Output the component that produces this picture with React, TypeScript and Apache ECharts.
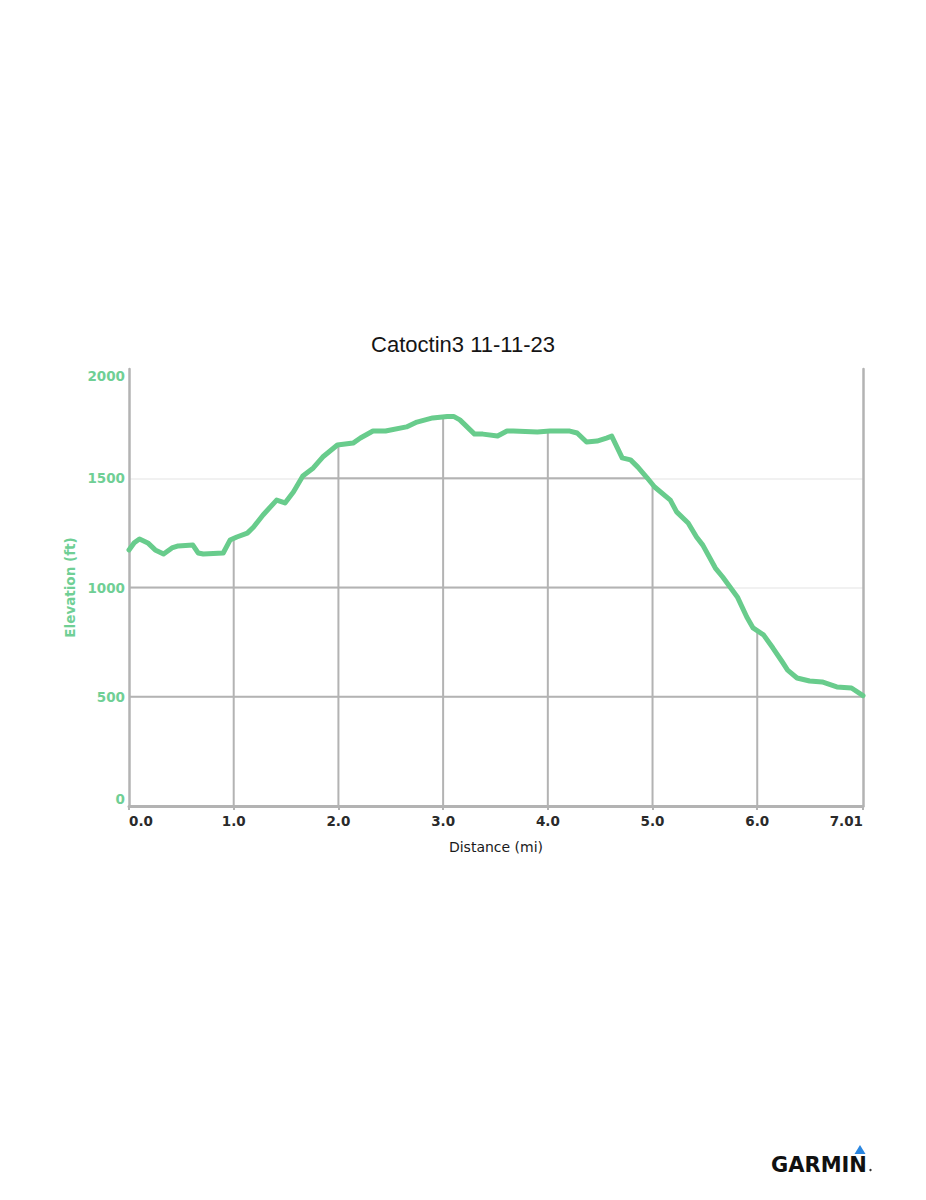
import React, { useEffect, useRef } from "react";
import * as echarts from "echarts";

const TITLE = "Catoctin3 11-11-23";
const X_NAME = "Distance (mi)";
const Y_NAME = "Elevation (ft)";

// distance (mi)
const DIST = [
  0, 0.05, 0.1, 0.18, 0.25, 0.33, 0.41, 0.47, 0.61, 0.66,
  0.71, 0.9, 0.965, 1.03, 1.13, 1.19, 1.28, 1.41, 1.49, 1.57,
  1.66, 1.76, 1.85, 1.99, 2.14, 2.21, 2.33, 2.45, 2.65, 2.75,
  2.9, 3.04, 3.1, 3.16, 3.3, 3.38, 3.52, 3.61, 3.67, 3.9,
  4.02, 4.21, 4.28, 4.37, 4.47, 4.56, 4.61, 4.71, 4.79, 4.86,
  4.95, 5.02, 5.17, 5.23, 5.34, 5.42, 5.48, 5.6, 5.67, 5.81,
  5.9, 5.96, 6.06, 6.15, 6.24, 6.29, 6.38, 6.5, 6.62, 6.76,
  6.9, 7.01,
];
// elevation (ft)
const ELEV = [
  1172, 1205, 1222, 1204, 1172, 1153, 1181, 1190, 1194, 1158,
  1153, 1158, 1217, 1231, 1249, 1277, 1332, 1400, 1387, 1437,
  1510, 1547, 1597, 1652, 1661, 1684, 1716, 1716, 1735, 1757,
  1776, 1783, 1783, 1767, 1702, 1702, 1693, 1716, 1716, 1712,
  1716, 1716, 1707, 1666, 1670, 1684, 1693, 1593, 1584, 1551,
  1501, 1460, 1400, 1346, 1295, 1231, 1194, 1089, 1048, 957,
  865, 815, 783, 723, 659, 622, 586, 572, 568, 545,
  540, 505,
];

const X_TICKS = [0, 1, 2, 3, 4, 5, 6, 7.01];
const X_GRID = [1, 2, 3, 4, 5, 6];
const Y_GRID = [500, 1000, 1500];

const GREEN = "#68cc8c";
const LABEL_GREEN = "#6fcf95";
const GRID_DARK = "#b3b3b3";
const GRID_LIGHT = "#ececec";

function elevAt(d: number): number {
  for (let i = 1; i < DIST.length; i++) {
    if (d <= DIST[i]) {
      const t = (d - DIST[i - 1]) / (DIST[i] - DIST[i - 1]);
      return ELEV[i - 1] + t * (ELEV[i] - ELEV[i - 1]);
    }
  }
  return ELEV[ELEV.length - 1];
}

function aboveIntervals(level: number): number[][] {
  const res: number[][] = [];
  let start: number | null = ELEV[0] >= level ? DIST[0] : null;
  for (let i = 1; i < DIST.length; i++) {
    const a = ELEV[i - 1];
    const b = ELEV[i];
    if ((a - level) * (b - level) < 0) {
      const t = (level - a) / (b - a);
      const x = DIST[i - 1] + t * (DIST[i] - DIST[i - 1]);
      if (start === null) start = x;
      else {
        res.push([start, x]);
        start = null;
      }
    }
  }
  if (start !== null) res.push([start, DIST[DIST.length - 1]]);
  return res;
}

export default function App() {
  const ref = useRef<HTMLDivElement>(null);
  useEffect(() => {
    if (!ref.current) return;
    const chart = echarts.init(ref.current, undefined, { renderer: "svg" });
    const lineData = DIST.map((d, i) => [d, ELEV[i]]);
    chart.setOption({
      animation: false,
      backgroundColor: "#ffffff",
      title: {
        text: TITLE,
        left: "center",
        top: 328,
        textStyle: {
          fontFamily: "Liberation Sans",
          fontSize: 22,
          fontWeight: "normal",
          color: "#151515",
        },
      },
      grid: { left: 129, right: 63, top: 369, bottom: 394, containLabel: false },
      xAxis: {
        type: "value",
        min: 0,
        max: 7.01,
        interval: 1,
        name: X_NAME,
        nameLocation: "middle",
        nameGap: 34,
        nameTextStyle: { fontFamily: "DejaVu Sans", fontSize: 14, color: "#1a1a1a" },
        axisLine: { show: true, lineStyle: { color: GRID_DARK, width: 3 } },
        axisTick: {
          show: true,
          length: 4,
          customValues: X_TICKS,
          lineStyle: { color: GRID_DARK, width: 2 },
        },
        axisLabel: {
          customValues: X_TICKS,
          margin: 8,
          fontFamily: "DejaVu Sans",
          fontWeight: "bold",
          fontSize: 13.5,
          color: "#2a2a2a",
          alignMinLabel: "left",
          alignMaxLabel: "right",
          formatter: (v: number) =>
            Math.abs(v - 7.01) < 1e-6 ? "7.01" : Math.abs(v - 7) < 1e-6 ? "" : v.toFixed(1),
        },
        splitLine: { show: false },
      },
      yAxis: [
        {
          type: "value",
          min: 0,
          max: 2000,
          interval: 500,
          name: Y_NAME,
          nameLocation: "middle",
          nameGap: 50,
          nameTextStyle: {
            fontFamily: "DejaVu Sans",
            fontSize: 13.5,
            fontWeight: "bold",
            color: LABEL_GREEN,
          },
          axisLine: { show: true, lineStyle: { color: GRID_DARK, width: 2.5 } },
          axisTick: { show: false },
          axisLabel: {
            margin: 4,
            fontFamily: "DejaVu Sans",
            fontWeight: "bold",
            fontSize: 13.5,
            color: LABEL_GREEN,
            verticalAlignMinLabel: "bottom",
            verticalAlignMaxLabel: "top",
            formatter: (v: number) => String(v),
          },
          splitLine: {
            show: true,
            showMaxLine: false,
            lineStyle: { color: GRID_LIGHT, width: 1.5 },
          },
        },
        {
          type: "value",
          position: "right",
          min: 0,
          max: 2000,
          interval: 500,
          axisLine: { show: true, lineStyle: { color: GRID_DARK, width: 2.5 } },
          axisTick: { show: false },
          axisLabel: { show: false },
          splitLine: { show: false },
        },
      ],
      series: [
        {
          type: "custom",
          z: 2,
          silent: true,
          data: Y_GRID.map((v) => [0, v]),
          encode: { x: 0, y: 1 },
          renderItem: (params: any, api: any) => {
            const level = api.value(1);
            const children = aboveIntervals(level).map(([a, b]) => {
              const p1 = api.coord([a, level]);
              const p2 = api.coord([b, level]);
              return {
                type: "line",
                shape: { x1: p1[0], y1: p1[1], x2: p2[0], y2: p2[1] },
                style: { stroke: GRID_DARK, lineWidth: 2 },
              };
            });
            return { type: "group", children };
          },
        },
        {
          type: "custom",
          z: 2,
          silent: true,
          data: X_GRID.map((d) => [d, 0]),
          encode: { x: 0, y: 1 },
          renderItem: (params: any, api: any) => {
            const d = api.value(0);
            const top = api.coord([d, elevAt(d)]);
            const bot = api.coord([d, 0]);
            return {
              type: "line",
              shape: { x1: top[0], y1: top[1], x2: bot[0], y2: bot[1] },
              style: { stroke: GRID_DARK, lineWidth: 2 },
            };
          },
        },
        {
          type: "line",
          z: 5,
          data: lineData,
          showSymbol: false,
          symbol: "none",
          smooth: false,
          lineStyle: { color: GREEN, width: 5, cap: "round", join: "round" },
        },
      ],
      graphic: [
        {
          type: "text",
          left: 771,
          top: 1154,
          style: {
            text: "GARMIN",
            fontFamily: "DejaVu Sans",
            fontWeight: "bold",
            fontSize: 21,
            fill: "#111111",
          },
        },
        {
          type: "polygon",
          shape: { points: [[860, 1145], [854.5, 1154], [865.5, 1154]] },
          style: { fill: "#2a86e0" },
        },
        {
          type: "circle",
          shape: { cx: 870.5, cy: 1170, r: 1.2 },
          style: { fill: "#333" },
        },
      ],
    });
    return () => chart.dispose();
  }, []);
  return (
    <div
      ref={ref}
      style={{ position: "absolute", left: 0, top: 0, width: 926, height: 1200 }}
    />
  );
}
